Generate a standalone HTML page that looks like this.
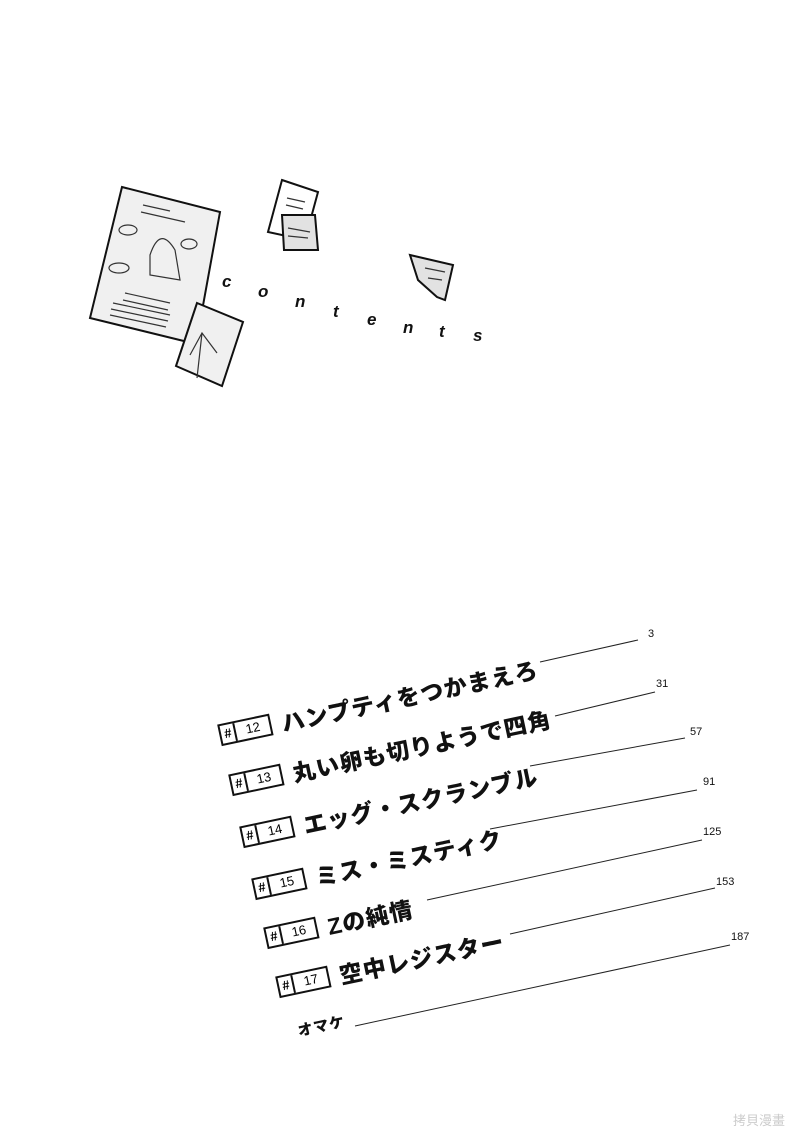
<!DOCTYPE html>
<html><head><meta charset="utf-8"><style>
body{margin:0;background:#fff;}
#p{position:relative;width:800px;height:1138px;overflow:hidden;background:#fff;font-family:"Liberation Sans","Noto Sans CJK JP",sans-serif;}
.l{position:absolute;font-style:italic;font-weight:bold;font-size:17px;color:#111;font-family:"Liberation Sans",sans-serif;}
.e{position:absolute;transform:rotate(-12deg);transform-origin:0 100%;white-space:nowrap;display:flex;align-items:center;}
.b{display:inline-flex;border:2px solid #111;height:18px;font-size:13px;line-height:18px;margin-right:10px;}
.b span{padding:0 3px;}
.b span:first-child{border-right:2px solid #111;font-weight:bold;}
.b span:last-child{width:28px;text-align:center;}
.t{font-size:23px;font-weight:900;color:#111;letter-spacing:1px;}
.n{position:absolute;font-size:11px;color:#111;}
</style></head><body><div id="p">
<svg width="800" height="1138" style="position:absolute;left:0;top:0">
<g stroke="#111" stroke-width="2" fill="#f0f0f0">
<polygon points="122,187 220,212 196,344 90,318"/>
<polygon points="197,303 243,322 222,386 176,366"/>
<polygon points="282,180 318,192 305,240 268,232" fill="#fff"/>
<polygon points="282,215 315,215 318,250 284,250" fill="#e2e2e2"/>
<polygon points="410,255 453,265 445,300 437,297 418,280" fill="#e2e2e2"/>
</g>
<g stroke="#333" stroke-width="1.2" fill="none">
<line x1="143" y1="205" x2="170" y2="211"/><line x1="141" y1="212" x2="185" y2="222"/>
<ellipse cx="128" cy="230" rx="9" ry="5"/><ellipse cx="189" cy="244" rx="8" ry="5"/>
<ellipse cx="119" cy="268" rx="10" ry="5"/>
<path d="M150,255 q10,-30 25,-5 l5,30 l-30,-5 z"/>
<line x1="125" y1="293" x2="170" y2="303"/><line x1="123" y1="300" x2="168" y2="310"/>
<line x1="113" y1="303" x2="170" y2="315"/><line x1="111" y1="309" x2="168" y2="321"/><line x1="110" y1="315" x2="166" y2="327"/>
<path d="M190,355 l12,-22 l15,20 M202,333 l-5,45"/>
<line x1="287" y1="198" x2="305" y2="202"/><line x1="286" y1="205" x2="303" y2="209"/>
<line x1="288" y1="228" x2="310" y2="232"/><line x1="288" y1="236" x2="308" y2="238"/>
<line x1="425" y1="268" x2="445" y2="272"/><line x1="428" y1="278" x2="442" y2="280"/>
</g>
<g stroke="#222" stroke-width="1">
<line x1="540" y1="662" x2="638" y2="640"/>
<line x1="555" y1="716" x2="655" y2="692"/>
<line x1="530" y1="766" x2="685" y2="738"/>
<line x1="490" y1="829" x2="697" y2="790"/>
<line x1="427" y1="900" x2="702" y2="840"/>
<line x1="510" y1="934" x2="715" y2="888"/>
<line x1="355" y1="1026" x2="730" y2="945"/>
</g>
</svg>
<div class="l" style="left:222px;top:272px">c</div>
<div class="l" style="left:258px;top:282px">o</div>
<div class="l" style="left:295px;top:292px">n</div>
<div class="l" style="left:333px;top:302px">t</div>
<div class="l" style="left:367px;top:310px">e</div>
<div class="l" style="left:403px;top:318px">n</div>
<div class="l" style="left:439px;top:322px">t</div>
<div class="l" style="left:473px;top:326px">s</div>

<div class="e" style="left:223px;top:718px"><span class="b"><span>#</span><span>12</span></span><span class="t">ハンプティをつかまえろ</span></div>
<div class="e" style="left:234px;top:768px"><span class="b"><span>#</span><span>13</span></span><span class="t">丸い卵も切りようで四角</span></div>
<div class="e" style="left:245px;top:820px"><span class="b"><span>#</span><span>14</span></span><span class="t">エッグ・スクランブル</span></div>
<div class="e" style="left:257px;top:872px"><span class="b"><span>#</span><span>15</span></span><span class="t">ミス・ミスティク</span></div>
<div class="e" style="left:269px;top:921px"><span class="b"><span>#</span><span>16</span></span><span class="t">Zの純情</span></div>
<div class="e" style="left:281px;top:970px"><span class="b"><span>#</span><span>17</span></span><span class="t">空中レジスター</span></div>
<div class="e" style="left:300px;top:1020px"><span class="t" style="font-size:15px;letter-spacing:1px">オマケ</span></div>

<div class="n" style="left:648px;top:628px">3</div>
<div class="n" style="left:656px;top:678px">31</div>
<div class="n" style="left:690px;top:726px">57</div>
<div class="n" style="left:703px;top:776px">91</div>
<div class="n" style="left:703px;top:826px">125</div>
<div class="n" style="left:716px;top:876px">153</div>
<div class="n" style="left:731px;top:931px">187</div>
<div style="position:absolute;left:733px;top:1110px;font-size:13px;color:#ccc;font-family:'Liberation Sans','Noto Sans CJK SC',sans-serif">拷貝漫畫</div>
</div></body></html>
